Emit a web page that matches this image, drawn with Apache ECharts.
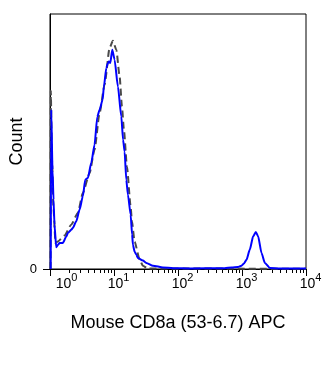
<!DOCTYPE html>
<html><head><meta charset="utf-8">
<script src="https://cdn.jsdelivr.net/npm/echarts@6/dist/echarts.min.js"></script>
<style>html,body{margin:0;padding:0;background:#fff}#c{width:335px;height:365px}</style>
</head><body><div id="c"></div>
<script>
// x values are log10 of fluorescence intensity (decades), y are counts (% of axis height)
const decades = [0, 1, 2, 3, 4];
const xTitle = 'Mouse CD8a (53-6.7) APC';
const yTitle = 'Count';

const stainedLog = [0.011,0.019,0.039,0.055,0.070,0.097,0.125,0.149,0.200,0.254,0.279,0.332,0.357,0.410,0.462,0.513,0.551,0.592,0.645,0.696,0.739,0.775,0.822,0.842,0.880,0.905,0.920,0.942,0.973,1.009,1.061,1.114,1.142,1.166,1.192,1.218,1.260,1.283,1.296,1.322,1.349,1.374,1.452,1.505,1.609,1.765,1.922,2.183,2.731,2.840,2.934,2.992,3.028,3.070,3.122,3.174,3.216,3.252,3.305,3.357,3.435,3.592,4.0];
const stainedCount = [0,62.5,38.9,27.2,17.4,8.5,9.5,10.2,10.2,12.7,14.1,15.4,16.1,18.7,23.3,28.5,35.0,35.7,41.7,48.7,59.7,62.5,66.4,71.5,78.8,80.8,81.4,80.8,86.0,82.1,71.6,59.8,50.7,46.0,35.0,29.1,21.3,13.5,9.5,6.8,5.6,4.3,3.3,2.4,1.3,0.6,0.3,0.2,0.3,0.6,0.8,1.3,2.1,3.6,7.6,12.8,14.5,12.8,6.3,2.4,0.4,0.2,0.2];

const controlLog = [0.008,0.0125,0.031,0.055,0.086,0.122,0.227,0.332,0.435,0.513,0.618,0.696,0.775,0.853,0.931,0.983,1.036,1.088,1.124,1.155,1.202,1.260,1.280,1.322,1.401,1.452,1.526,4.0];
const controlCount = [0,69.9,42.9,23.3,10.3,10.8,13.1,17.4,22.0,29.8,37.6,46.8,61.2,72.3,86.7,89.5,86.0,75.5,63.8,54.6,40.2,24.5,18.7,10.7,3.6,1.3,0.2,0.1];

const zip = (a, b) => a.map((v, i) => [v, b[i]]);
const minorTicks = [];
for (let d = 0; d < 4; d++) for (let k = 2; k <= 9; k++) minorTicks.push(d + Math.log10(k));

const FONT = 'Liberation Sans, Arial, sans-serif';
const chart = echarts.init(document.getElementById('c'));
chart.setOption({
  animation: false,
  backgroundColor: '#fff',
  grid: { left: 50, right: 29, top: 14, bottom: 96, show: true, borderColor: '#000', borderWidth: 1,
          containLabel: false, outerBoundsMode: 'none' },
  xAxis: [{
    type: 'value', min: 0, max: 4, interval: 1,
    name: xTitle, nameLocation: 'middle', nameGap: 45, nameMoveOverlap: false,
    nameTextStyle: { fontSize: 18, color: '#000', fontFamily: FONT },
    axisLine: { show: true, onZero: false, lineStyle: { color: '#000', width: 1 } },
    axisTick: { show: true, customValues: decades, length: 7, lineStyle: { color: '#000' } },
    splitLine: { show: false },
    axisLabel: {
      customValues: decades, margin: 3,
      formatter: v => (v === 0 ? '{f|10}' : '{b|10}') + '{s|' + v + '}',
      rich: {
        f: { fontSize: 14, fontFamily: FONT, color: '#000', lineHeight: 24, padding: [0, 0, 0, 33] },
        b: { fontSize: 14, fontFamily: FONT, color: '#000', lineHeight: 24, padding: [0, 0, 0, 9] },
        s: { fontSize: 11, fontFamily: FONT, color: '#000', lineHeight: 10, verticalAlign: 'top' }
      }
    }
  }, {
    type: 'value', min: 0, max: 4, position: 'bottom',
    axisLine: { show: false },
    axisTick: { show: true, customValues: minorTicks, length: 4, lineStyle: { color: '#000' } },
    axisLabel: { show: false },
    splitLine: { show: false }
  }],
  yAxis: {
    type: 'value', min: 0, max: 100,
    name: yTitle, nameLocation: 'middle', nameGap: 24, nameMoveOverlap: false,
    nameTextStyle: { fontSize: 18, color: '#000', fontFamily: FONT },
    axisLine: { show: true, lineStyle: { color: '#000', width: 1 } },
    axisTick: { show: true, customValues: [0], length: 7, lineStyle: { color: '#000' } },
    axisLabel: { customValues: [0], margin: 13, formatter: () => '0', fontSize: 13, color: '#000', fontFamily: FONT,
                 padding: [0, 0, 5, 0] },
    splitLine: { show: false }
  },
  series: [{
    type: 'line', xAxisIndex: 0, data: zip(controlLog, controlCount), showSymbol: false,
    smooth: 0.2, smoothMonotone: 'x',
    lineStyle: { color: '#4a4a4a', width: 2, type: [7, 4] }, z: 2
  }, {
    type: 'line', xAxisIndex: 0, data: zip(stainedLog, stainedCount), showSymbol: false,
    smooth: 0.2, smoothMonotone: 'x',
    lineStyle: { color: '#0000ff', width: 2 }, z: 3
  }]
});
</script></body></html>
